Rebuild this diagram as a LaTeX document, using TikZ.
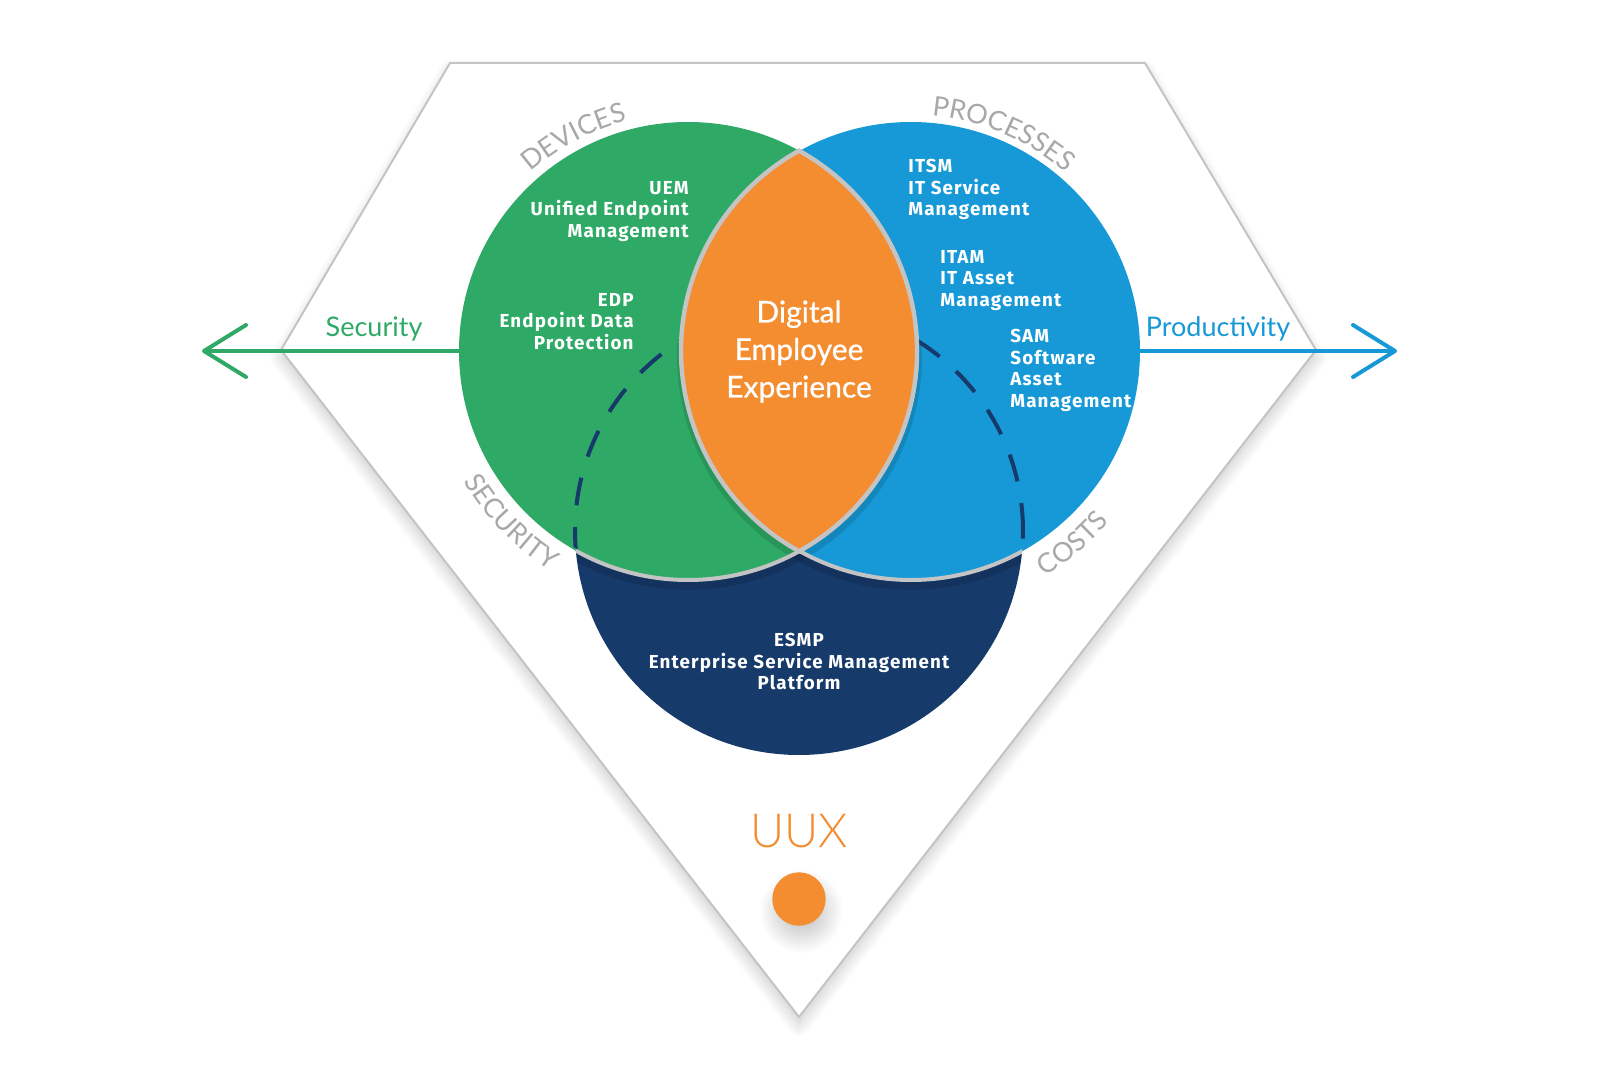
\documentclass[tikz,border=0pt]{standalone}
\usepackage{fontspec}
\setmainfont{Fira Sans}
\newfontfamily\latofont{Lato}
\newfontfamily\dexfont[FakeBold=0.8]{Lato}
\newfontfamily\uuxfont{Lato Light}
\newfontfamily\trackfont[LetterSpace=12]{Lato}
\newfontfamily\bodyfont[LetterSpace=6]{Fira Sans}
\usetikzlibrary{calc,arrows.meta,decorations.text,shadows.blur}

\definecolor{devgreen}{HTML}{2EAA66}
\definecolor{procblue}{HTML}{1699D6}
\definecolor{dexorange}{HTML}{F48C30}
\definecolor{esmnavy}{HTML}{163A6A}
\definecolor{rimgray}{HTML}{C4C4C4}
\definecolor{labelgray}{HTML}{A8A8A8}

\newcommand\arcfont{\trackfont\fontsize{13.5}{15}\selectfont}

\tikzset{
  itemtext/.style={text=white, inner sep=0pt, font=\bodyfont\bfseries\fontsize{9.4}{10.75}\selectfont},
  dextext/.style={text=white, inner sep=0pt, align=center, font=\dexfont\fontsize{15}{18.75}\selectfont},
  axistext/.style={inner sep=0pt, font=\latofont\fontsize{13.5}{16}\selectfont},
  arrowline/.style={line width=2pt, line cap=round, -{Straight Barb[length=21pt, width=26pt, round]}},
  arclabel/.style={decorate, decoration={text along path, text align=center, text color=labelgray, text={|\arcfont|#1}}},
  softshadow/.style={blur shadow={shadow xshift=0pt, shadow yshift=-4pt, shadow blur radius=6pt, shadow opacity=20, shadow blur steps=12}}
}

\begin{document}
\begin{tikzpicture}[x=0.5pt, y=0.5pt]
  \useasboundingbox (0,0) rectangle (1600,1067);

  % frame
  \draw[rimgray, line width=1pt, fill=white, line join=round, softshadow]
    (450,1004) -- (1145,1004) -- (1316,717) -- (799,50) -- (281,717) -- cycle;

  % axis arrows
  \coordinate (sectip) at (202,716);
  \coordinate (prodtip) at (1397,716);

  % circles
  \node[circle, fill=esmnavy, minimum size=224pt, inner sep=0pt] (esmp) at (799,536) {};
  \node[circle, fill=devgreen, minimum size=229pt, inner sep=0pt] (devices) at (688,716) {};
  \node[circle, fill=procblue, minimum size=229pt, inner sep=0pt] (processes) at (911,716) {};

  \draw[arrowline, devgreen] (devices.west) -- (sectip);
  \draw[arrowline, procblue] (processes.east) -- (prodtip);

  % rims over the platform
  \begin{scope}
    \clip (esmp) circle[radius=224];
    \draw[black, opacity=0.12, line width=5pt] ($(devices)+(0,-5)$) circle[radius=229];
    \draw[black, opacity=0.12, line width=5pt] ($(processes)+(0,-5)$) circle[radius=229];
    \draw[rimgray, line width=2pt] (devices) circle[radius=229];
    \draw[rimgray, line width=2pt] (processes) circle[radius=229];
  \end{scope}

  % hidden part of the platform
  \begin{scope}
    \clip (devices) circle[radius=227];
    \draw[esmnavy, line width=2pt, dash pattern=on 14pt off 11pt] (esmp) circle[radius=224];
  \end{scope}
  \begin{scope}
    \clip (processes) circle[radius=227];
    \draw[esmnavy, line width=2pt, dash pattern=on 14pt off 11pt] (esmp) circle[radius=224];
  \end{scope}

  % lens
  \filldraw[fill=dexorange, draw=rimgray, line width=2.2pt]
    ($(devices)+(61:229)$) arc[start angle=61, end angle=-61, radius=229]
    arc[start angle=241, end angle=119, radius=229] -- cycle;

  \node[dextext, anchor=north] (dex) at (799,767) {Digital\\Employee\\Experience};

  \node[itemtext, align=right, anchor=north east] (uem) at (689,886) {UEM\\Unified Endpoint\\Management};
  \node[itemtext, align=right, anchor=north east] (edp) at (634,774) {EDP\\Endpoint Data\\Protection};
  \node[itemtext, align=left, anchor=north west] (itsm) at (908,908) {ITSM\\IT Service\\Management};
  \node[itemtext, align=left, anchor=north west] (itam) at (940,817) {ITAM\\IT Asset\\Management};
  \node[itemtext, align=left, anchor=north west] (sam) at (1010,738) {SAM\\Software\\Asset\\Management};
  \node[itemtext, align=center, anchor=north] (esmptext) at (799,434) {ESMP\\Enterprise Service Management\\Platform};

  \node[axistext, text=devgreen, anchor=base] (seclabel) at (374,730) {Security};
  \node[axistext, text=procblue, anchor=base] (prodlabel) at (1218,730) {Productivity};

  % curved labels
  \path[arclabel=DEVICES] ($(devices)+(158:238)$) arc[start angle=158, end angle=78, radius=238];
  \path[arclabel=PROCESSES] ($(processes)+(107:236)$) arc[start angle=107, end angle=27, radius=236];
  \path[arclabel=SECURITY] ($(devices)+(184:259)$) arc[start angle=184, end angle=264, radius=259];
  \path[arclabel=COSTS] ($(processes)+(-90:262)$) arc[start angle=-90, end angle=-10, radius=262];

  % user experience
  \node[inner sep=0pt, text=dexorange, font=\uuxfont\fontsize{23.5}{26}\selectfont, anchor=base] (uux) at (799,220) {UUX};
  \shade[inner color=black!28, outer color=white] (801,156) circle[radius=42];
  \node[circle, fill=dexorange, minimum size=26.7pt, inner sep=0pt] (uuxdot) at (799,168) {};
\end{tikzpicture}
\end{document}
